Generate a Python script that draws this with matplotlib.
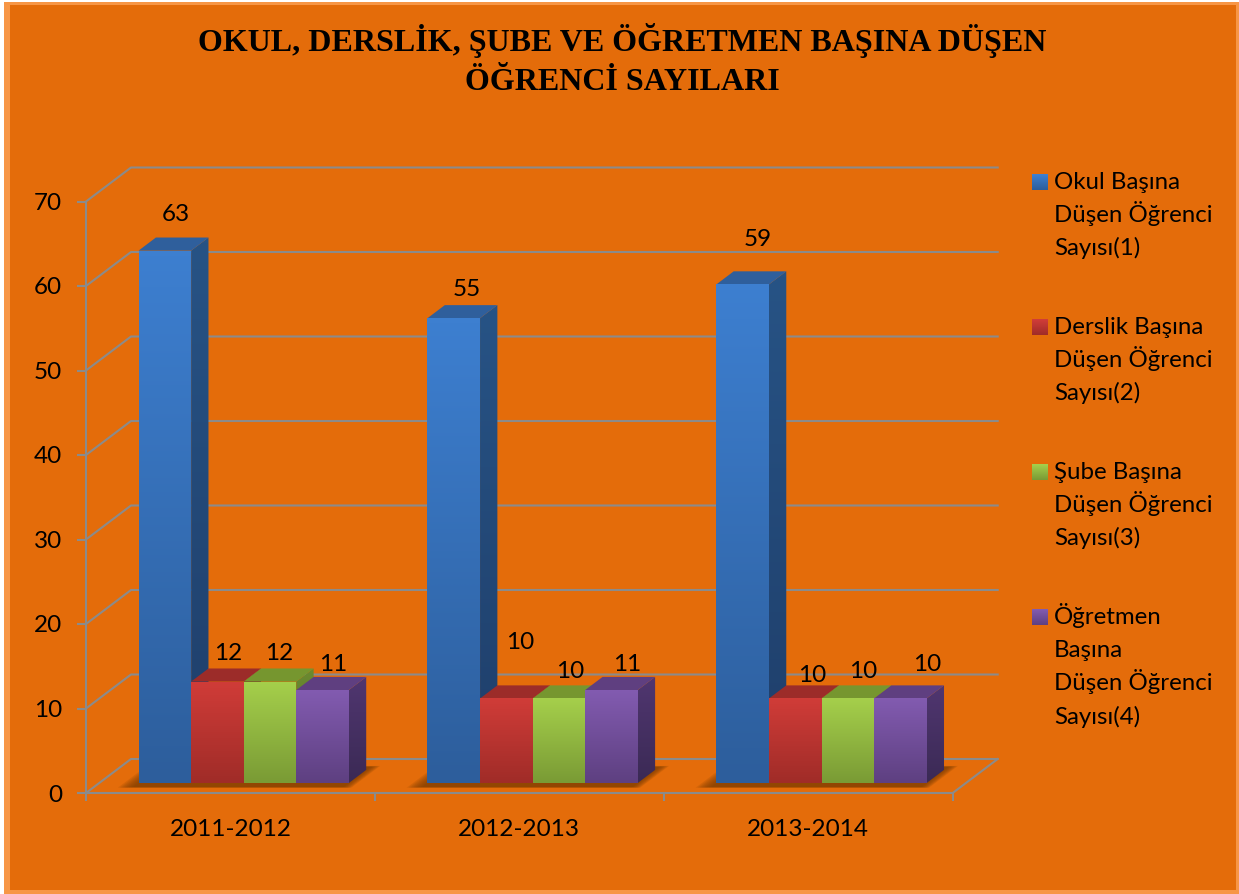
import numpy as np
import matplotlib
matplotlib.use("Agg")
import matplotlib.pyplot as plt
from matplotlib.colors import LinearSegmentedColormap
from matplotlib.patches import Polygon, Rectangle

# ---------- data ----------
years = ["2011-2012", "2012-2013", "2013-2014"]
okul = [63, 55, 59]
derslik = [12, 10, 10]
sube = [12, 10, 10]
ogretmen = [11, 11, 10]
series_names = [
    "Okul Başına\nDüşen Öğrenci\nSayısı(1)",
    "Derslik Başına\nDüşen Öğrenci\nSayısı(2)",
    "Şube Başına\nDüşen Öğrenci\nSayısı(3)",
    "Öğretmen\nBaşına\nDüşen Öğrenci\nSayısı(4)",
]
title = "OKUL, DERSLİK, ŞUBE VE ÖĞRETMEN BAŞINA DÜŞEN\nÖĞRENCİ SAYILARI"

# ---------- style ----------
W, H = 1239, 894
BG, EDGE, GRID = "#E46C0A", "#F79646", "#8B8B8B"
FONT = "Lato"
TXT = 17.5
LEG_TXT = 17.3
front_cols = [("#3D7FD0", "#2D5E9C"), ("#D03C38", "#A02C28"),
              ("#A5CF4B", "#7A9B35"), ("#825BB0", "#5E4081")]
side_cols = [("#275385", "#1F3E6A"), ("#832523", "#6A1E1C"),
             ("#6B8A30", "#556E27"), ("#503670", "#3B2A55")]
top_cols = ["#2F5F9C", "#9C2C29", "#76962F", "#5F3F80"]
# data-label offsets in pixels from the top-centre of each bar front
label_off = [[(11, -36), (11, -28), (9, -28), (11, -26)],
             [(13, -29), (14, -56), (11, -27), (16, -26)],
             [(15, -45), (17, -23), (15, -27), (27, -34)]]

fig = plt.figure(figsize=(W / 100, H / 100), dpi=100, facecolor="white")


def frect(x0, y0, x1, y1, color, z=-5):
    fig.patches.append(Rectangle((x0 / W, 1 - y1 / H), (x1 - x0) / W, (y1 - y0) / H,
                                 transform=fig.transFigure, fc=color, ec="none", zorder=z))


frect(4, 2, W, H, EDGE)
frect(10, 5, 1236, 890, BG)

AX_L, AX_R, AX_B, AX_T = 86.0, 952.7, 793.0, 201.5
ax = fig.add_axes([AX_L / W, 1 - AX_B / H, (AX_R - AX_L) / W, (AX_B - AX_T) / H])
ax.patch.set_alpha(0)

# depth projection (in data units per unit of depth)
DX = 45 / ((AX_R - AX_L) / 3)
DY = 34 / ((AX_B - AX_T) / 70)
BAR_W = 0.182
D0, D1 = 0.295, 0.68


def proj(x, y, d):
    return (x + d * DX, y + d * DY)


def grad_poly(verts, top, bottom, z):
    xs, ys = zip(*verts)
    cmap = LinearSegmentedColormap.from_list("g", [bottom, top])
    im = ax.imshow(np.linspace(0, 1, 64).reshape(-1, 1), cmap=cmap, origin="lower",
                   extent=(min(xs), max(xs), min(ys), max(ys)), aspect="auto",
                   zorder=z, interpolation="bilinear")
    clip = Polygon(verts, closed=True, transform=ax.transData, fc="none", ec="none")
    im.set_clip_path(clip)
    return im


def gridline(pts, z=1):
    xs, ys = zip(*pts)
    ax.plot(xs, ys, color=GRID, lw=1.5, clip_on=False, zorder=z, solid_capstyle="projecting")


# walls
for v in range(0, 80, 10):
    gridline([proj(-0.5, v, 0), proj(-0.5, v, 1), proj(2.5, v, 1)])
gridline([proj(2.5, 0, 0), proj(2.5, 0, 1)])

# shadows + bars
values = [okul, derslik, sube, ogretmen]
for g in range(len(years)):
    x_left = g - 2 * BAR_W
    x_right = g + 2 * BAR_W
    for t in np.linspace(1, 0, 8):
        grow = t * 0.05
        d_a, d_b = 0.176 - 0.02 * t, 0.765 + 0.03 * t
        sh = [proj(x_left - grow, 0, d_a), proj(x_right + grow * 0.6, 0, d_a),
              proj(x_right + grow * 0.6, 0, d_b), proj(x_left - grow, 0, d_b)]
        ax.add_patch(Polygon(sh, closed=True, fc="#7A3C02", ec="none", alpha=0.16,
                             zorder=2, clip_on=False))
    for s in range(4):
        v = values[s][g]
        xa = x_left + s * BAR_W
        xb = xa + BAR_W
        z = 3 + s + g * 4
        side = [proj(xb, 0, D0), proj(xb, 0, D1), proj(xb, v, D1), proj(xb, v, D0)]
        grad_poly(side, side_cols[s][0], side_cols[s][1], z + 0.1)
        ax.add_patch(Polygon([proj(xa, v, D0), proj(xb, v, D0), proj(xb, v, D1), proj(xa, v, D1)],
                             closed=True, fc=top_cols[s], ec="none", zorder=z + 0.2, clip_on=False))
        front = [proj(xa, 0, D0), proj(xb, 0, D0), proj(xb, v, D0), proj(xa, v, D0)]
        grad_poly(front, front_cols[s][0], front_cols[s][1], z + 0.3)
        dx, dy = label_off[g][s]
        ax.annotate(str(v), xy=proj((xa + xb) / 2, v, D0), xytext=(dx * 0.72, -dy * 0.72),
                    textcoords="offset points", ha="center", va="center", fontsize=TXT,
                    family=FONT, color="black", zorder=60, annotation_clip=False)

ax.set_xlim(-0.5, 2.5)
ax.set_ylim(0, 70)

# axes, ticks
for name in ("top", "right"):
    ax.spines[name].set_visible(False)
for name in ("left", "bottom"):
    ax.spines[name].set_color(GRID)
    ax.spines[name].set_linewidth(1.5)
ax.set_yticks(range(0, 80, 10))
ax.set_xticks(range(3))
ax.set_xticklabels(years)
ax.set_xticks([-0.5, 0.5, 1.5, 2.5], minor=True)
ax.tick_params(axis="y", length=6.3, width=1.5, color=GRID, pad=11, labelsize=TXT)
ax.tick_params(axis="x", which="major", length=0, pad=18.7, labelsize=TXT)
ax.tick_params(axis="x", which="minor", length=6, width=1.5, color=GRID)
for lab in ax.get_xticklabels() + ax.get_yticklabels():
    lab.set_family(FONT)

# title
fig.text(622 / W, 1 - 60 / H, title, ha="center", va="center", fontsize=23.05,
         family="Liberation Serif", fontweight="bold", linespacing=1.41)

# legend: drawn line by line so the line pitch stays even with Ö/Ş glyphs
LEG_TOP, LEG_STEP, LEG_LINE = 189.0, 145.0, 33.2
for i, (name, cols) in enumerate(zip(series_names, front_cols)):
    y0 = LEG_TOP + i * LEG_STEP
    for j, line in enumerate(name.split("\n")):
        fig.text(1054 / W, 1 - (y0 + j * LEG_LINE) / H, line, ha="left", va="baseline",
                 fontsize=LEG_TXT, family=FONT, color="black")
    c = LinearSegmentedColormap.from_list("s", [cols[0], cols[1]])
    for k in range(16):
        frect(1032, y0 - 15 + k, 1048, y0 - 14 + k, c(k / 15), z=5)

fig.savefig("out.png", dpi=100, facecolor=fig.get_facecolor())
